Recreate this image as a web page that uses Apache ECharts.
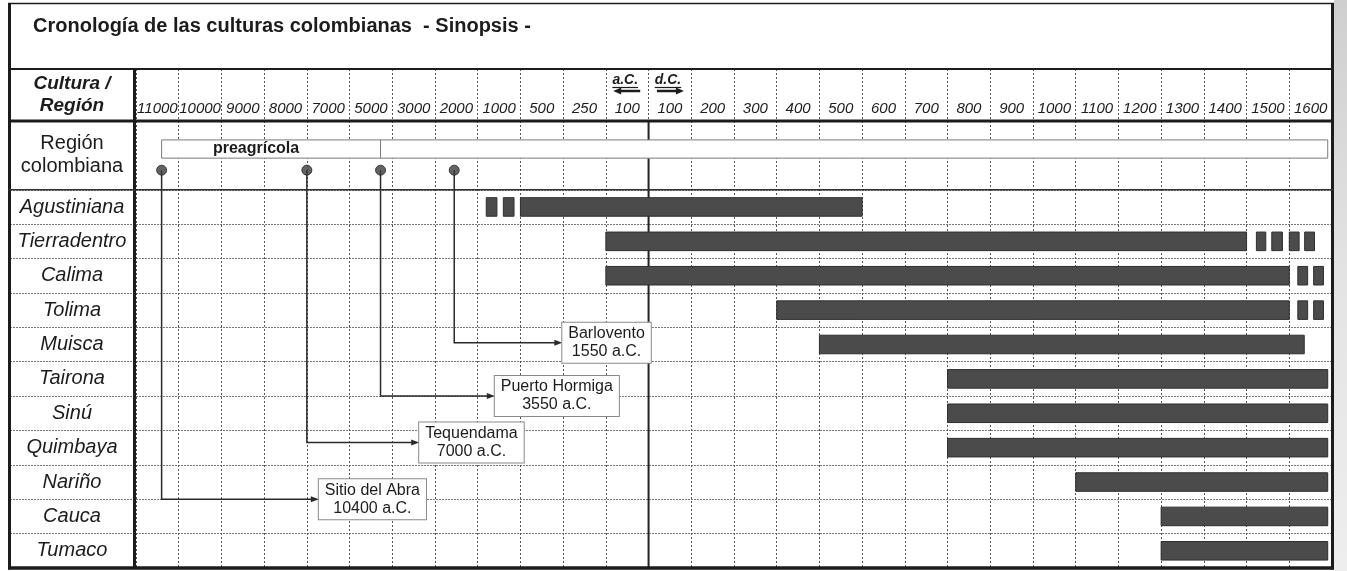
<!DOCTYPE html>
<html>
<head>
<meta charset="utf-8">
<script src="https://cdn.jsdelivr.net/npm/echarts@6/dist/echarts.min.js"></script>
<style>
  html, body { margin: 0; padding: 0; background: #fff; }
  #chart { width: 1347px; height: 571px; }
</style>
</head>
<body>
<div id="chart"></div>
<script>
// ---- Time axis: each column spans two consecutive edges (negative years = a.C.)
const columnEdges = [-11000, -10000, -9000, -8000, -7000, -5000, -3000, -2000, -1000, -500, -250, -100, 0,
  100, 200, 300, 400, 500, 600, 700, 800, 900, 1000, 1100, 1200, 1300, 1400, 1500, 1600];
const tickLabels = ['11000', '10000', '9000', '8000', '7000', '5000', '3000', '2000', '1000', '500', '250', '100',
  '100', '200', '300', '400', '500', '600', '700', '800', '900', '1000', '1100', '1200', '1300', '1400', '1500', '1600'];
const eraMarks = ['a.C.', 'd.C.'];

// ---- Cultures and their periods (years)
const cultures = ['Agustiniana', 'Tierradentro', 'Calima', 'Tolima', 'Muisca', 'Tairona', 'Sinú',
  'Quimbaya', 'Nariño', 'Cauca', 'Tumaco'];
const cultureStart = [-500, -100, -100, 300, 400, 700, 700, 700, 1000, 1200, 1200];
const cultureEnd = [500, 1400, 1500, 1500, 1535, 1590, 1590, 1590, 1590, 1590, 1590];

// Uncertain stretches, drawn as short separate blocks: [culture index, from, to]
const uncertainBlocks = [
  [0, -900, -775], [0, -700, -575],
  [1, 1423, 1445], [1, 1459, 1484], [1, 1500, 1523], [1, 1536, 1559],
  [2, 1520, 1543], [2, 1557, 1580],
  [3, 1520, 1543], [3, 1557, 1580]
];

// ---- Region-wide periods and archaeological sites
const periodNames = ['preagrícola', ''];
const periodStart = [-10400, -3550];
const periodEnd = [-3550, 1590];
const siteNames = ['Sitio del Abra', 'Tequendama', 'Puerto Hormiga', 'Barlovento'];
const siteYears = [-10400, -7000, -3550, -1550];

// ---- Layout
const FONT = "'Liberation Sans', Arial, Helvetica, sans-serif";
const INK = '#1c1c1c';
const BODY_TOP = 121, BODY_BOTTOM = 568, LEFT = 136, RIGHT_EDGE = 1332, W = 1347, H = 571;
const ROWS = 13, REGION_ROWS = 2;
const ROW_H = (BODY_BOTTOM - BODY_TOP) / ROWS;
const BOX_TOP = 0.55, BOX_BOTTOM = 1.08, DOT_ROW = 1.43;     // inside the region row (row units)
const calloutTip = [4.28, 6.63, 8.4, 9.98];                   // where each site box starts (column units)
const calloutRow = [9.0, 7.35, 6.0, 4.45];                    // arrow height, counted in culture rows
const periodLabelShift = -15;
const BOX_PAD = 6;

// Piecewise scale: year -> column position
function yearToPos(year) {
  for (let i = 0; i < columnEdges.length - 1; i++) {
    const a = columnEdges[i], b = columnEdges[i + 1];
    if (year >= a && year <= b) return i + (year - a) / (b - a);
  }
  return year < columnEdges[0] ? 0 : columnEdges.length - 1;
}

const measureCtx = document.createElement('canvas').getContext('2d');
function textWidth(text, font) {
  measureCtx.font = font;
  return Math.max(...text.split('\n').map(t => measureCtx.measureText(t).width));
}

const gridX = { left: LEFT, right: W - RIGHT_EDGE };
const dotted = (color, type) => ({ show: true, lineStyle: { color, width: 1, type } });
const NCOL = columnEdges.length - 1;

function barItem(params, api) {
  const y = REGION_ROWS + api.value(0) + 0.5;
  const p0 = api.coord([api.value(1), y]);
  const p1 = api.coord([api.value(2), y]);
  const h = api.size([0, 1])[1] * 0.54;
  return {
    type: 'rect',
    shape: { x: p0[0], y: p0[1] - h / 2, width: p1[0] - p0[0], height: h },
    style: { fill: '#4b4b4b', stroke: '#2f2f2f', lineWidth: 1 }
  };
}

const option = {
  animation: false,
  backgroundColor: '#fff',
  title: {
    text: '{b|Cronología de las culturas colombianas}{r|  - Sinopsis -}',
    left: 28, top: 11,
    textStyle: {
      rich: {
        b: { fontFamily: FONT, fontSize: 20, fontWeight: 'bold', color: INK },
        r: { fontFamily: FONT, fontSize: 20, color: INK }
      }
    }
  },
  grid: [
    { ...gridX, top: 69, height: BODY_TOP - 69 },                                   // header
    { ...gridX, top: BODY_TOP, height: REGION_ROWS * ROW_H },                       // region row
    { left: 10, right: W - RIGHT_EDGE, top: BODY_TOP + REGION_ROWS * ROW_H,
      height: (ROWS - REGION_ROWS) * ROW_H },                                        // culture rows
    { ...gridX, top: BODY_TOP, height: ROWS * ROW_H }                               // plotting overlay
  ],
  xAxis: [
    { gridIndex: 0, type: 'value', min: 0, max: NCOL, interval: 1, position: 'top',
      axisLine: { show: false }, axisTick: { show: false }, axisLabel: { show: false },
      splitLine: dotted('#555', [2, 2]) },
    { gridIndex: 0, type: 'category', data: tickLabels, position: 'bottom', boundaryGap: true,
      axisLine: { show: false }, axisTick: { show: false }, splitLine: { show: false },
      axisLabel: { inside: true, margin: 5, interval: 0, fontFamily: FONT, fontSize: 15,
        fontStyle: 'italic', color: INK } },
    { gridIndex: 1, type: 'value', show: false, min: 0, max: 1 },
    { gridIndex: 2, type: 'value', show: false, min: 0, max: 1 },
    { gridIndex: 3, type: 'value', min: 0, max: NCOL, interval: 1,
      axisLine: { show: false }, axisTick: { show: false }, axisLabel: { show: false },
      splitLine: dotted('#555', [2, 2]) }
  ],
  yAxis: [
    { gridIndex: 0, type: 'category', data: ['Cultura /\nRegión'],
      axisLine: { show: false }, axisTick: { show: false },
      axisLabel: { margin: 64, align: 'center', fontFamily: FONT, fontSize: 19, lineHeight: 22,
        fontWeight: 'bold', fontStyle: 'italic', color: INK } },
    { gridIndex: 1, type: 'category', data: ['Región\ncolombiana'],
      axisLine: { show: false }, axisTick: { show: false },
      axisLabel: { margin: 64, align: 'center', fontFamily: FONT, fontSize: 20, lineHeight: 23, color: INK } },
    { gridIndex: 2, type: 'category', data: cultures, inverse: true,
      axisLine: { show: false }, axisTick: { show: false },
      splitLine: dotted('#777', [2, 1]),
      axisLabel: { inside: true, margin: 62, align: 'center', fontFamily: FONT, fontSize: 20,
        fontStyle: 'italic', color: INK } },
    { gridIndex: 3, type: 'value', min: 0, max: ROWS, inverse: true, show: false }
  ],
  series: [
    // a.C. / d.C. marks over the two columns next to year 0
    {
      type: 'custom', xAxisIndex: 0, yAxisIndex: 0, z: 5,
      data: eraMarks.map((m, i) => [yearToPos(0) + (i === 0 ? -0.5 : 0.5), 0, i === 0 ? -1 : 1]),
      renderItem(params, api) {
        const c = api.coord([api.value(0), 0]);
        const dir = api.value(2);
        const x = c[0], y = c[1];
        const tx = textWidth(eraMarks[params.dataIndex], 'italic bold 14px ' + FONT);
        const ay = y - 4;
        const head = dir < 0 ? x - 14 : x + 14;
        return {
          type: 'group', children: [
            { type: 'text', x: x - 2, y: y - 15, style: { text: eraMarks[params.dataIndex], fontFamily: FONT,
              fontSize: 14, fontStyle: 'italic', fontWeight: 'bold', fill: INK, align: 'center', verticalAlign: 'middle' } },
            { type: 'line', shape: { x1: x - 2 - tx / 2, y1: y - 7.5, x2: x - 2 + tx / 2, y2: y - 7.5 },
              style: { stroke: INK, lineWidth: 1.2 } },
            { type: 'line', shape: { x1: x - 13 * dir, y1: ay, x2: head - 6 * dir, y2: ay },
              style: { stroke: INK, lineWidth: 2.5 } },
            { type: 'polygon', shape: { points: [[head, ay], [head - 8 * dir, ay - 3.5], [head - 8 * dir, ay + 3.5]] },
              style: { fill: INK } }
          ]
        };
      }
    },
    // divider between a.C. and d.C.
    {
      type: 'custom', xAxisIndex: 4, yAxisIndex: 3, z: 1,
      data: [[yearToPos(0)]],
      renderItem(params, api) {
        const a = api.coord([api.value(0), 0]);
        const b = api.coord([api.value(0), ROWS]);
        return { type: 'line', shape: { x1: a[0], y1: a[1], x2: b[0], y2: b[1] },
          style: { stroke: '#222', lineWidth: 2 } };
      }
    },
    // region-wide periods
    {
      type: 'custom', xAxisIndex: 4, yAxisIndex: 3, z: 2,
      data: periodNames.map((n, i) => [yearToPos(periodStart[i]), yearToPos(periodEnd[i])]),
      renderItem(params, api) {
        const p0 = api.coord([api.value(0), BOX_TOP]);
        const p1 = api.coord([api.value(1), BOX_BOTTOM]);
        return {
          type: 'group', children: [
            { type: 'rect', shape: { x: p0[0], y: p0[1], width: p1[0] - p0[0], height: p1[1] - p0[1] },
              style: { fill: '#fff', stroke: '#7a7a7a', lineWidth: 1 } },
            { type: 'text', x: (p0[0] + p1[0]) / 2 + periodLabelShift, y: (p0[1] + p1[1]) / 2,
              style: { text: periodNames[params.dataIndex], fontFamily: FONT, fontSize: 16, fontWeight: 'bold',
                fill: INK, align: 'center', verticalAlign: 'middle' } }
          ]
        };
      }
    },
    // culture periods
    {
      type: 'custom', xAxisIndex: 4, yAxisIndex: 3, z: 3,
      data: cultures.map((c, i) => [i, yearToPos(cultureStart[i]), yearToPos(cultureEnd[i])]),
      renderItem: barItem
    },
    // uncertain stretches
    {
      type: 'custom', xAxisIndex: 4, yAxisIndex: 3, z: 3,
      data: uncertainBlocks.map(b => [b[0], yearToPos(b[1]), yearToPos(b[2])]),
      renderItem: barItem
    },
    // site callouts
    {
      type: 'custom', xAxisIndex: 4, yAxisIndex: 3, z: 4,
      data: siteNames.map((n, i) => [yearToPos(siteYears[i]), i]),
      renderItem(params, api) {
        const i = api.value(1);
        const p = api.coord([api.value(0), DOT_ROW]);
        const ya = api.coord([api.value(0), REGION_ROWS + calloutRow[i]])[1];
        const tip = api.coord([calloutTip[i], 0])[0];
        const text = siteNames[i] + '\n' + Math.abs(siteYears[i]) + ' a.C.';
        const font = '16px ' + FONT;
        const w = textWidth(text, font) + 2 * BOX_PAD;
        return {
          type: 'group', children: [
            { type: 'polyline', shape: { points: [[p[0], p[1]], [p[0], ya], [tip - 6, ya]] },
              style: { stroke: '#2a2a2a', lineWidth: 1.5, fill: 'none' } },
            { type: 'polygon', shape: { points: [[tip, ya], [tip - 8, ya - 3], [tip - 8, ya + 3]] },
              style: { fill: '#2a2a2a' } },
            { type: 'text', x: tip + w / 2, y: ya,
              style: { text, fontFamily: FONT, fontSize: 16, fill: INK, align: 'center', verticalAlign: 'middle',
                lineHeight: 18, padding: [2, BOX_PAD], backgroundColor: '#fff', borderColor: '#8a8a8a', borderWidth: 1 } }
          ]
        };
      }
    },
    // site markers
    {
      type: 'scatter', xAxisIndex: 4, yAxisIndex: 3, z: 5,
      symbol: 'circle', symbolSize: 10,
      itemStyle: { color: '#3c3c3c', borderColor: '#222', borderWidth: 1 },
      data: siteYears.map(y => [yearToPos(y), DOT_ROW])
    }
  ],
  graphic: {
    elements: [
      // scanner shade beyond the right border
      { type: 'rect', z: 1, shape: { x: RIGHT_EDGE + 2, y: 0, width: W - RIGHT_EDGE - 2, height: H },
        style: { fill: new echarts.graphic.LinearGradient(0, 0, 0, 1, [
          { offset: 0, color: '#cfcfcf' }, { offset: 0.5, color: '#e4e4e4' }, { offset: 1, color: '#eeeeee' }]) } },
      // table frame
      { type: 'line', z: 20, shape: { x1: 8, y1: 3.5, x2: RIGHT_EDGE + 2, y2: 3.5 }, style: { stroke: INK, lineWidth: 1.5 } },
      { type: 'line', z: 20, shape: { x1: 9.5, y1: 3, x2: 9.5, y2: BODY_BOTTOM + 1.5 }, style: { stroke: INK, lineWidth: 3 } },
      { type: 'line', z: 20, shape: { x1: RIGHT_EDGE + 0.5, y1: 3, x2: RIGHT_EDGE + 0.5, y2: BODY_BOTTOM + 1.5 }, style: { stroke: INK, lineWidth: 3 } },
      { type: 'line', z: 20, shape: { x1: 8, y1: BODY_BOTTOM, x2: RIGHT_EDGE + 2, y2: BODY_BOTTOM }, style: { stroke: INK, lineWidth: 3.5 } },
      { type: 'line', z: 20, shape: { x1: 8, y1: 69, x2: RIGHT_EDGE + 2, y2: 69 }, style: { stroke: INK, lineWidth: 2 } },
      { type: 'line', z: 20, shape: { x1: 8, y1: BODY_TOP, x2: RIGHT_EDGE + 2, y2: BODY_TOP }, style: { stroke: INK, lineWidth: 3 } },
      { type: 'line', z: 20, shape: { x1: LEFT - 1.5, y1: 69, x2: LEFT - 1.5, y2: BODY_BOTTOM }, style: { stroke: INK, lineWidth: 3 } },
      { type: 'line', z: 20, shape: { x1: 8, y1: BODY_TOP + REGION_ROWS * ROW_H, x2: RIGHT_EDGE + 2, y2: BODY_TOP + REGION_ROWS * ROW_H },
        style: { stroke: '#333', lineWidth: 1.5 } }
    ]
  }
};

const chart = echarts.init(document.getElementById('chart'), null, { renderer: 'canvas' });
chart.setOption(option);
</script>
</body>
</html>
